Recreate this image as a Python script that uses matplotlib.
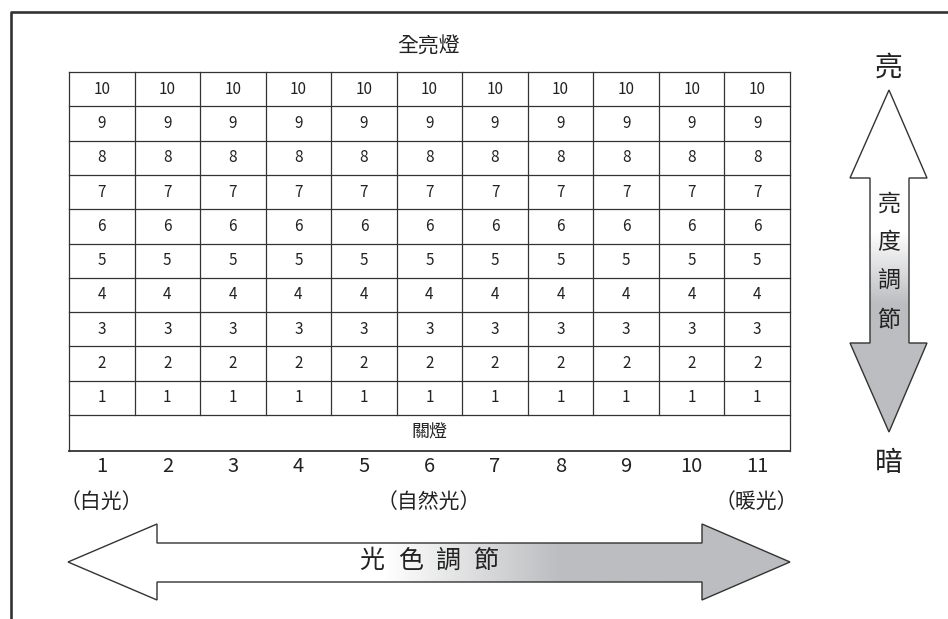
import numpy as np
import matplotlib
matplotlib.use("Agg")
import matplotlib.pyplot as plt
from matplotlib.patches import Polygon
from matplotlib.colors import LinearSegmentedColormap

plt.rcParams['font.family'] = ['Noto Sans CJK TC', 'DejaVu Sans']

# data
levels = [10, 9, 8, 7, 6, 5, 4, 3, 2, 1]
tones = [1, 2, 3, 4, 5, 6, 7, 8, 9, 10, 11]
tone_labels = {1: "（白光）", 6: "（自然光）", 11: "（暖光）"}
top_label = "全亮燈"
off_label = "關燈"
h_title = ["光", "色", "調", "節"]
v_title = ["亮", "度", "調", "節"]

ink = "#222222"
gray = "#bcbdc0"

fig = plt.figure(figsize=(9.48, 6.19), dpi=100)
ax = fig.add_axes([0, 0, 1, 1])
ax.set_xlim(0, 948)
ax.set_ylim(619, 0)
ax.axis("off")

# frame (top and left only, cropped)
ax.plot([11, 11, 948], [619, 12, 12], color="#333333", lw=1.9, solid_capstyle="butt")

# table
x0, x1 = 69, 790
y0, y_rows, y_off = 72, 415, 451
cw = (x1 - x0) / len(tones)
rh = (y_rows - y0) / len(levels)

for i, t in enumerate(tones):
    cx = x0 + cw * (i + 0.5)
    for j, lv in enumerate(levels):
        cy = y0 + rh * (j + 0.5)
        ax.text(cx, cy, str(lv), ha="center", va="center", fontsize=11, color=ink)
    ax.text(cx, 466, str(t), ha="center", va="center", fontsize=14.5, color=ink)
    if t in tone_labels:
        ax.text(cx - 1, 502, tone_labels[t], ha="center", va="center", fontsize=15, color=ink)

for j in range(len(levels) + 1):
    y = y0 + rh * j
    ax.plot([x0, x1], [y, y], color="#333333", lw=0.9)
for i in range(len(tones) + 1):
    x = x0 + cw * i
    if i in (0, len(tones)):
        ax.plot([x, x], [y0, y_off], color="#333333", lw=0.9)
    else:
        ax.plot([x, x], [y0, y_rows], color="#333333", lw=0.9)
ax.plot([x0, x1], [y_off, y_off], color="#333333", lw=1.3)

ax.text((x0 + x1) / 2 - 1, 46, top_label, ha="center", va="center", fontsize=15, color=ink)
ax.text((x0 + x1) / 2, 433, off_label, ha="center", va="center", fontsize=13, color=ink)

cmap = LinearSegmentedColormap.from_list("wg", ["white", gray])

# horizontal arrow (color temperature)
h_pts = [(68, 562), (157, 524), (157, 543), (702, 543), (702, 524), (790, 562),
         (702, 600), (702, 582), (157, 582), (157, 600)]
grad_x = np.clip((np.linspace(68, 790, 400) - 385) / (560 - 385), 0, 1)
im = ax.imshow(grad_x[None, :], cmap=cmap, vmin=0, vmax=1, aspect="auto",
               extent=(68, 790, 600, 524), zorder=1)
ax.add_patch(Polygon(h_pts, closed=True, fill=False, ec="#333333", lw=1.0, zorder=2))
im.set_clip_path(Polygon(h_pts, closed=True, transform=ax.transData))
for k, ch in enumerate(h_title):
    ax.text(372 + 38.3 * k, 561, ch, ha="center", va="center", fontsize=18, color=ink, zorder=3)

# vertical arrow (brightness)
v_pts = [(889, 90), (850, 178), (870, 178), (870, 343), (850, 343), (889, 432),
         (927, 343), (909, 343), (909, 178), (927, 178)]
grad_y = np.clip((np.linspace(90, 432, 400) - 232) / (305 - 232), 0, 1)
im2 = ax.imshow(grad_y[:, None], cmap=cmap, vmin=0, vmax=1, aspect="auto",
                extent=(850, 927, 432, 90), zorder=1)
ax.add_patch(Polygon(v_pts, closed=True, fill=False, ec="#333333", lw=1.0, zorder=2))
im2.set_clip_path(Polygon(v_pts, closed=True, transform=ax.transData))
for k, ch in enumerate(v_title):
    ax.text(889, 204 + 38.8 * k, ch, ha="center", va="center", fontsize=16.5, color=ink, zorder=3)

ax.text(889, 68, "亮", ha="center", va="center", fontsize=20, color=ink)
ax.text(889, 463, "暗", ha="center", va="center", fontsize=20, color=ink)

ax.set_xlim(0, 948)
ax.set_ylim(619, 0)
fig.savefig("out.png", dpi=100)
